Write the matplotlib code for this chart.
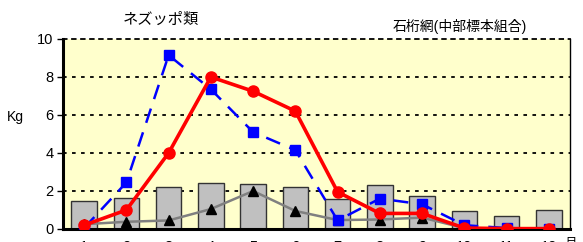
import matplotlib
matplotlib.use("Agg")
import matplotlib.pyplot as plt
import numpy as np

plt.rcParams['font.family'] = ['Liberation Sans', 'Noto Sans CJK JP', 'DejaVu Sans']

months = [1, 2, 3, 4, 5, 6, 7, 8, 9, 10, 11, 12]
month_labels = [str(m) for m in months]
bars = [1.5, 1.65, 2.2, 2.42, 2.38, 2.2, 1.6, 2.3, 1.72, 0.95, 0.68, 0.98]
red = [0.2, 1.0, 4.0, 8.0, 7.25, 6.2, 1.95, 0.82, 0.82, 0.05, 0.02, 0.02]
blue = [0.05, 2.45, 9.15, 7.35, 5.1, 4.15, 0.45, 1.6, 1.3, 0.2, 0.05, 0.0]
black = [0.25, 0.38, 0.45, 1.05, 2.0, 0.95, 0.47, 0.5, 0.6, 0.05, 0.0, 0.0]

fig = plt.figure(figsize=(5.83, 2.42), dpi=100)
ax = fig.add_axes([63/583, (242-229)/242, (570-63)/583, (229-39)/242])
ax.set_facecolor('#FFFFCC')

ax.bar(months, bars, width=0.6, color='#C0C0C0', edgecolor='#333333', linewidth=1.0, zorder=2)
ax.plot(months, black, color='#808080', linewidth=1.8, marker='^', markersize=7,
        markerfacecolor='black', markeredgecolor='black', zorder=3)
ax.plot(months, blue, color='#0000FF', linewidth=1.8, linestyle=(0, (6, 4)), marker='s', markersize=6.5,
        markerfacecolor='#0000FF', markeredgecolor='#0000FF', zorder=4)
ax.plot(months, red, color='#FF0000', linewidth=2.6, marker='o', markersize=8,
        markerfacecolor='#FF0000', markeredgecolor='#FF0000', zorder=5)

ax.set_xlim(0.5, 12.5)
ax.set_ylim(0, 10)
ax.set_yticks([0, 2, 4, 6, 8, 10])
ax.set_xticks(months)
ax.set_xticklabels(month_labels)
ax.tick_params(axis='y', labelsize=10.5, length=4, width=1, direction='out', pad=3)
ax.tick_params(axis='x', labelsize=10.5, length=0, pad=8)
for y in [2, 4, 6, 8]:
    ax.axhline(y, color='black', linestyle=(0, (2, 3)), linewidth=1.3, zorder=1)

ax.spines['left'].set_linewidth(2.2)
ax.spines['bottom'].set_linewidth(2.2)
ax.spines['right'].set_linewidth(1.0)
ax.spines['top'].set_linestyle((0, (2, 3)))
ax.spines['top'].set_linewidth(1.3)

fig.text(15/583, 1 - 117/242, 'Kg', ha='center', va='center', fontsize=10)
fig.text(161/583, 1 - 20/242, 'ネズッポ類', ha='center', va='center', fontsize=11)
fig.text(460/583, 1 - 26/242, '石桁網(中部標本組合)', ha='center', va='center', fontsize=10)
fig.text(571/583, 1 - 238/242, '月', ha='center', va='top', fontsize=9)

fig.savefig('out.png', dpi=100)
